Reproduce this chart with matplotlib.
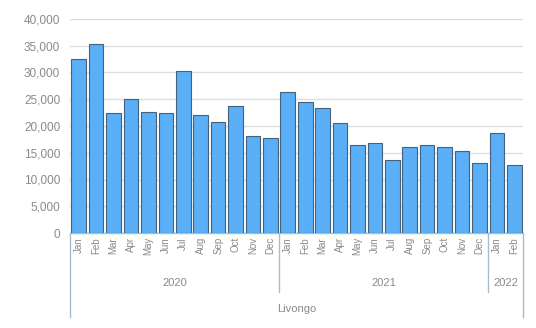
import matplotlib
matplotlib.use("Agg")
import matplotlib.pyplot as plt
import matplotlib.transforms as mtransforms

# ------------------------------
# DATA
# ------------------------------
months = ["Jan", "Feb", "Mar", "Apr", "May", "Jun", "Jul", "Aug", "Sep", "Oct", "Nov", "Dec",
          "Jan", "Feb", "Mar", "Apr", "May", "Jun", "Jul", "Aug", "Sep", "Oct", "Nov", "Dec",
          "Jan", "Feb"]
values = [32500, 35400, 22400, 25100, 22700, 22400, 30300, 22100, 20700, 23700, 18200, 17800,
          26300, 24400, 23400, 20600, 16400, 16800, 13700, 16100, 16400, 16000, 15300, 13000,
          18700, 12800]
years = ["2020", "2021", "2022"]
year_counts = [12, 12, 2]
group_label = "Livongo"

yticks = [0, 5000, 10000, 15000, 20000, 25000, 30000, 35000, 40000]

# ------------------------------
# FIGURE
# ------------------------------
plt.rcParams['font.family'] = ['Liberation Sans', 'DejaVu Sans']
text_col = '#8a8a8a'
line_col = '#a9bccd'

fig = plt.figure(figsize=(5.36, 3.28), dpi=100)
ax = fig.add_axes([70 / 536, 1 - 233 / 328, 453 / 536, 214 / 328])

x = list(range(len(values)))
ax.bar(x, values, width=0.84, color='#5aaff7', edgecolor='#44627e', linewidth=0.8, zorder=3)

ax.set_xlim(-0.5, len(values) - 0.5)
ax.set_ylim(0, 40000)
ax.set_yticks(yticks)
ax.set_yticklabels([f"{v:,}" for v in yticks], color=text_col, fontsize=8.5)
ax.yaxis.grid(True, color='#dedede', linewidth=1, zorder=0)
ax.tick_params(axis='y', length=0, pad=7)

ax.set_xticks(x)
ax.set_xticklabels(months, rotation=90, fontsize=7, color=text_col)
ax.tick_params(axis='x', length=0, pad=3)

for s in ['top', 'right', 'left']:
    ax.spines[s].set_visible(False)
ax.spines['bottom'].set_color(line_col)
ax.spines['bottom'].set_linewidth(1)

# --- multi level category labels ---
trans = mtransforms.blended_transform_factory(ax.transData, ax.transAxes)
start = -0.5
edges = [start]
for name, n in zip(years, year_counts):
    end = start + n
    ax.text((start + end) / 2, -0.234, name, transform=trans, ha='center', va='center',
            fontsize=8, color=text_col)
    edges.append(end)
    start = end

for e in edges:
    bottom = -0.393 if e in (edges[0], edges[-1]) else -0.276
    ax.plot([e, e], [0, bottom], transform=trans, color=line_col, linewidth=1, clip_on=False)

ax.text((edges[0] + edges[-1]) / 2, -0.355, group_label, transform=trans, ha='center',
        va='center', fontsize=8, color=text_col)

fig.savefig("out.png", dpi=100)
